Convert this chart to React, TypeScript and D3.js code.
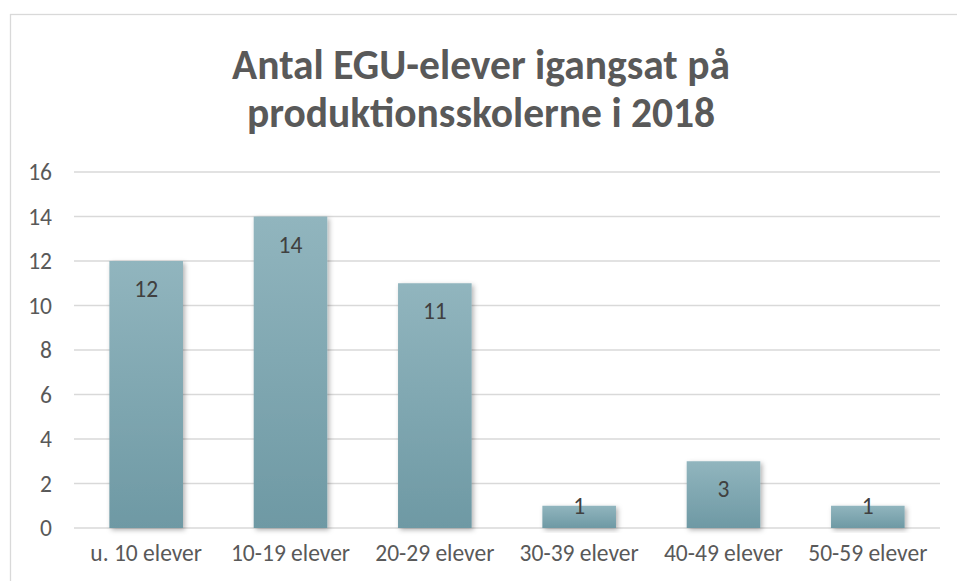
import React from "react";
import * as d3 from "d3";

const categories = ["u. 10 elever", "10-19 elever", "20-29 elever", "30-39 elever", "40-49 elever", "50-59 elever"];
const values = [12, 14, 11, 1, 3, 1];
const yTicks = [0, 2, 4, 6, 8, 10, 12, 14, 16];
const titleLines = ["Antal EGU-elever igangsat på", "produktionsskolerne i 2018"];

const W = 957;
const H = 581;
const FONT = "Carlito, Calibri, 'Open Sans', 'Liberation Sans', sans-serif";

export default function App() {
  const x = d3.scaleBand<string>().domain(categories).range([74, 940]).paddingInner(0.49).paddingOuter(0.245);
  const y = d3.scaleLinear().domain([0, 16]).range([528, 172]);

  return (
    <svg width={W} height={H} style={{ position: "absolute", left: 0, top: 0, background: "#fff" }}>
      <defs>
        <linearGradient id="barGrad" x1="0" y1="0" x2="0" y2="1">
          <stop offset="0%" stopColor="#91b5be" />
          <stop offset="100%" stopColor="#6e99a4" />
        </linearGradient>
        <filter id="shadow" x="-20%" y="-20%" width="140%" height="140%">
          <feDropShadow dx="2" dy="2" stdDeviation="2.5" floodColor="#000" floodOpacity="0.3" />
        </filter>
      </defs>
      <rect x={0} y={0} width={W} height={H} fill="#fff" />
      <rect x={10.5} y={14.5} width={W + 20} height={H + 20} fill="none" stroke="#d9d9d9" strokeWidth={1.3} />
      {titleLines.map((t, i) => (
        <text
          key={i}
          x={481}
          y={79 + i * 48}
          textAnchor="middle"
          fontFamily={FONT}
          fontWeight="bold"
          fontSize={41.5}
          fill="#595959"
        >
          {t}
        </text>
      ))}
      {yTicks.map((t) => (
        <g key={t}>
          <line x1={74} x2={940} y1={y(t)} y2={y(t)} stroke="#d9d9d9" strokeWidth={1.3} />
          <text x={52} y={y(t)} dy="0.35em" textAnchor="end" fontFamily={FONT} fontSize={23.5} fill="#595959">
            {t}
          </text>
        </g>
      ))}
      {categories.map((c, i) => {
        const v = values[i];
        const bx = x(c)!;
        const bw = x.bandwidth();
        const top = y(v);
        const h = y(0) - top;
        const ly = h >= 50 ? top + 28 : top;
        return (
          <g key={c}>
            <rect x={bx} y={top} width={bw} height={h} fill="url(#barGrad)" filter="url(#shadow)" />
            <text x={bx + bw / 2} y={ly} dy="0.35em" textAnchor="middle" fontFamily={FONT} fontSize={23.5} fill="#404040">
              {v}
            </text>
            <text x={bx + bw / 2} y={553} dy="0.35em" textAnchor="middle" fontFamily={FONT} fontSize={23.5} fill="#595959">
              {c}
            </text>
          </g>
        );
      })}
    </svg>
  );
}
